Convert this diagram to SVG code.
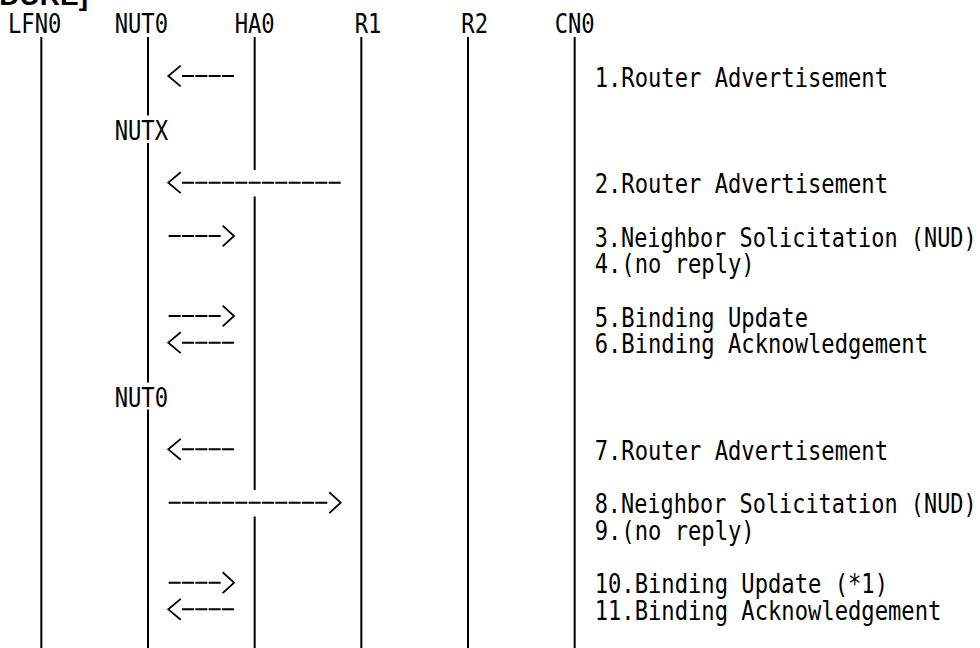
<svg xmlns="http://www.w3.org/2000/svg" width="980" height="648" viewBox="0 0 980 648">
<style>
.lbl { font-family: "DejaVu Sans Mono", "Liberation Mono", monospace; font-size: 26.67px; fill: #000; }
.title { font-family: "Liberation Sans", Arial, sans-serif; font-size: 28px; font-weight: bold; fill: #000; }
.life { stroke: #000; stroke-width: 2; fill: none; }
.msg { stroke: #000; stroke-width: 2; stroke-dasharray: 12 1.33; fill: none; }
.head { stroke: #000; stroke-width: 1.8; fill: none; stroke-dasharray: none; }
</style>
<defs>
<marker id="arrowL" markerUnits="userSpaceOnUse" markerWidth="20" markerHeight="24" refX="0" refY="0" orient="0" overflow="visible">
<path class="head" d="M-1.3,-10.4 L-13.7,0 L-1.3,10.4"/>
</marker>
<marker id="arrowR" markerUnits="userSpaceOnUse" markerWidth="20" markerHeight="24" refX="0" refY="0" orient="0" overflow="visible">
<path class="head" d="M1.3,-10.4 L12.7,0 L1.3,10.4"/>
</marker>
</defs>
<rect width="980" height="648" fill="#fff"/>
<text class="title" x="88" y="5" text-anchor="end">DURE]</text>

<g id="node-LFN0">
<text class="lbl" x="8" y="33.33" textLength="53.33" lengthAdjust="spacingAndGlyphs">LFN0</text>
<line class="life" x1="41.33" y1="37" x2="41.33" y2="648"/>
</g>
<g id="node-NUT0">
<text class="lbl" x="114.67" y="33.33" textLength="53.33" lengthAdjust="spacingAndGlyphs">NUT0</text>
<line class="life" x1="148" y1="37" x2="148" y2="115.5"/>
<text class="lbl" x="114.67" y="140" textLength="53.33" lengthAdjust="spacingAndGlyphs">NUTX</text>
<line class="life" x1="148" y1="143" x2="148" y2="382.5"/>
<text class="lbl" x="114.67" y="406.67" textLength="53.33" lengthAdjust="spacingAndGlyphs">NUT0</text>
<line class="life" x1="148" y1="409.5" x2="148" y2="648"/>
</g>
<g id="node-HA0">
<text class="lbl" x="234.67" y="33.33" textLength="40" lengthAdjust="spacingAndGlyphs">HA0</text>
<line class="life" x1="254.67" y1="37" x2="254.67" y2="170"/>
<line class="life" x1="254.67" y1="196.5" x2="254.67" y2="490"/>
<line class="life" x1="254.67" y1="516.5" x2="254.67" y2="648"/>
</g>
<g id="node-R1">
<text class="lbl" x="354.67" y="33.33" textLength="26.67" lengthAdjust="spacingAndGlyphs">R1</text>
<line class="life" x1="361.33" y1="37" x2="361.33" y2="648"/>
</g>
<g id="node-R2">
<text class="lbl" x="461.33" y="33.33" textLength="26.67" lengthAdjust="spacingAndGlyphs">R2</text>
<line class="life" x1="468" y1="37" x2="468" y2="648"/>
</g>
<g id="node-CN0">
<text class="lbl" x="554.67" y="33.33" textLength="40" lengthAdjust="spacingAndGlyphs">CN0</text>
<line class="life" x1="574.67" y1="37" x2="574.67" y2="648"/>
</g>

<g id="connectors">
<line class="msg" x1="182" y1="76" x2="234.67" y2="76" marker-start="url(#arrowL)"/>
<line class="msg" x1="182" y1="182.67" x2="341.33" y2="182.67" marker-start="url(#arrowL)"/>
<line class="msg" x1="168.67" y1="236" x2="221.33" y2="236" marker-end="url(#arrowR)"/>
<line class="msg" x1="168.67" y1="316" x2="221.33" y2="316" marker-end="url(#arrowR)"/>
<line class="msg" x1="182" y1="342.67" x2="234.67" y2="342.67" marker-start="url(#arrowL)"/>
<line class="msg" x1="182" y1="449.33" x2="234.67" y2="449.33" marker-start="url(#arrowL)"/>
<line class="msg" x1="168.67" y1="502.67" x2="328" y2="502.67" marker-end="url(#arrowR)"/>
<line class="msg" x1="168.67" y1="582.67" x2="221.33" y2="582.67" marker-end="url(#arrowR)"/>
<line class="msg" x1="182" y1="609.33" x2="234.67" y2="609.33" marker-start="url(#arrowL)"/>
</g>

<g id="messages">
<text class="lbl" x="594.67" y="86.67" textLength="293.33" lengthAdjust="spacingAndGlyphs">1.Router Advertisement</text>
<text class="lbl" x="594.67" y="193.33" textLength="293.33" lengthAdjust="spacingAndGlyphs">2.Router Advertisement</text>
<text class="lbl" x="594.67" y="246.67" textLength="382" lengthAdjust="spacingAndGlyphs">3.Neighbor Solicitation (NUD)</text>
<text class="lbl" x="594.67" y="273.33" textLength="160" lengthAdjust="spacingAndGlyphs">4.(no reply)</text>
<text class="lbl" x="594.67" y="326.67" textLength="213.33" lengthAdjust="spacingAndGlyphs">5.Binding Update</text>
<text class="lbl" x="594.67" y="353.33" textLength="333.33" lengthAdjust="spacingAndGlyphs">6.Binding Acknowledgement</text>
<text class="lbl" x="594.67" y="460" textLength="293.33" lengthAdjust="spacingAndGlyphs">7.Router Advertisement</text>
<text class="lbl" x="594.67" y="513.33" textLength="382" lengthAdjust="spacingAndGlyphs">8.Neighbor Solicitation (NUD)</text>
<text class="lbl" x="594.67" y="540" textLength="160" lengthAdjust="spacingAndGlyphs">9.(no reply)</text>
<text class="lbl" x="594.67" y="593.33" textLength="293.33" lengthAdjust="spacingAndGlyphs">10.Binding Update (*1)</text>
<text class="lbl" x="594.67" y="620" textLength="346.67" lengthAdjust="spacingAndGlyphs">11.Binding Acknowledgement</text>
</g>
</svg>
